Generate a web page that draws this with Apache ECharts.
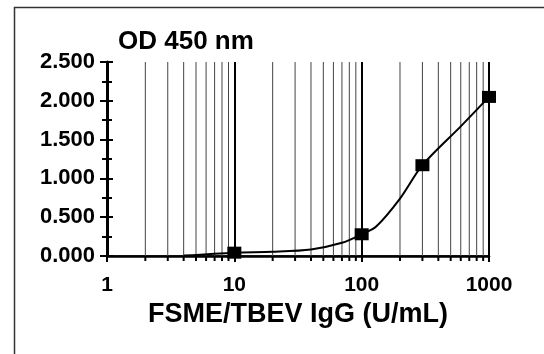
<!DOCTYPE html>
<html>
<head>
<meta charset="utf-8">
<script src="https://cdn.jsdelivr.net/npm/echarts@6/dist/echarts.min.js"></script>
<style>html,body{margin:0;padding:0;background:#fff}#c{width:544px;height:354px}</style>
</head>
<body>
<div id="c"></div>
<script>
// Measured points (markers)
const pointX = [10, 100, 300, 1000];
const pointY = [0.043, 0.28, 1.17, 2.05];
// Fitted curve
const curveX = [4, 10, 20, 40, 70, 100, 130, 200, 300, 600, 1000];
const curveY = [0.005, 0.043, 0.055, 0.085, 0.17, 0.28, 0.38, 0.74, 1.17, 1.67, 2.05];
// Minor log grid values
const minorGrid = [2,3,4,5,6,7,8,9,20,30,40,50,60,70,80,90,200,300,400,500,600,700,800,900];
const xTickLabels = ['1', '10', '100', '1000'];
const yMin = 0, yMax = 2.5, yStep = 0.5;

const FONT = 'Liberation Sans, Arial, sans-serif';
const chart = echarts.init(document.getElementById('c'), null, {renderer: 'canvas'});
chart.setOption({
  animation: false,
  backgroundColor: '#fff',
  graphic: [{
    type: 'rect', left: 12, top: 5, z: -10,
    shape: {width: 620, height: 420},
    style: {fill: 'none', stroke: '#333', lineWidth: 1.5}
  }],
  title: {
    text: 'OD 450 nm', left: 113, top: 24,
    textStyle: {fontFamily: FONT, fontWeight: 'bold', fontSize: 26, color: '#000'}
  },
  grid: {left: 107, right: 55, top: 62, bottom: 98, containLabel: false},
  xAxis: [{
    type: 'log', logBase: 10, min: 1, max: 1000,
    name: 'FSME/TBEV IgG (U/mL)', nameLocation: 'middle', nameGap: 44,
    nameTextStyle: {fontFamily: FONT, fontWeight: 'bold', fontSize: 27, color: '#000'},
    axisLine: {show: true, onZero: false, lineStyle: {color: '#000', width: 2.5}},
    axisTick: {show: true, length: 6, lineStyle: {color: '#000', width: 2}},
    axisLabel: {
      fontFamily: FONT, fontWeight: 'bold', fontSize: 21, color: '#000', margin: 19,
      formatter: v => { const i = Math.round(Math.log10(v)); return xTickLabels[i] !== undefined ? xTickLabels[i] : ''; }
    },
    splitLine: {show: true, lineStyle: {color: '#000', width: 2}}
  }, {
    type: 'log', logBase: 10, min: 1, max: 1000, position: 'top',
    axisLine: {show: true, lineStyle: {color: '#000', width: 1.5}},
    axisTick: {show: false}, axisLabel: {show: false}, splitLine: {show: false}
  }],
  yAxis: [{
    type: 'value', min: yMin, max: yMax, interval: yStep,
    axisLine: {show: true, lineStyle: {color: '#000', width: 3}},
    axisTick: {show: true, length: 7, lineStyle: {color: '#000', width: 2}},
    minorTick: {show: true, splitNumber: 2, length: 5, lineStyle: {color: '#000', width: 2}},
    axisLabel: {
      fontFamily: FONT, fontWeight: 'bold', fontSize: 22, color: '#000', margin: 12,
      formatter: v => v.toFixed(3)
    },
    splitLine: {show: false}
  }, {
    type: 'value', min: yMin, max: yMax, interval: yStep, position: 'left',
    axisLine: {show: false},
    axisTick: {show: true, inside: true, length: 6, lineStyle: {color: '#000', width: 2}},
    minorTick: {show: true, splitNumber: 2, length: 5, lineStyle: {color: '#000', width: 2}},
    axisLabel: {show: false}, splitLine: {show: false}
  }],
  series: [{
    type: 'custom', silent: true, z: 1,
    data: minorGrid.map(v => [v]),
    encode: {x: 0},
    renderItem: (params, api) => {
      const v = api.value(0);
      const top = api.coord([v, yMax]);
      const bot = api.coord([v, yMin]);
      return {type: 'group', children: [
        {type: 'line', shape: {x1: top[0], y1: top[1], x2: bot[0], y2: bot[1]},
         style: {stroke: '#444', lineWidth: 1}},
        {type: 'line', shape: {x1: bot[0], y1: bot[1], x2: bot[0], y2: bot[1] + 5},
         style: {stroke: '#000', lineWidth: 2}}
      ]};
    }
  }, {
    type: 'line', z: 3, smooth: 0.3, showSymbol: false,
    data: curveX.map((x, i) => [x, curveY[i]]),
    lineStyle: {color: '#000', width: 2}
  }, {
    type: 'scatter', z: 4, symbol: 'rect', symbolSize: [14, 12],
    data: pointX.map((x, i) => [x, pointY[i]]),
    itemStyle: {color: '#000', opacity: 1}
  }]
});
</script>
</body>
</html>
